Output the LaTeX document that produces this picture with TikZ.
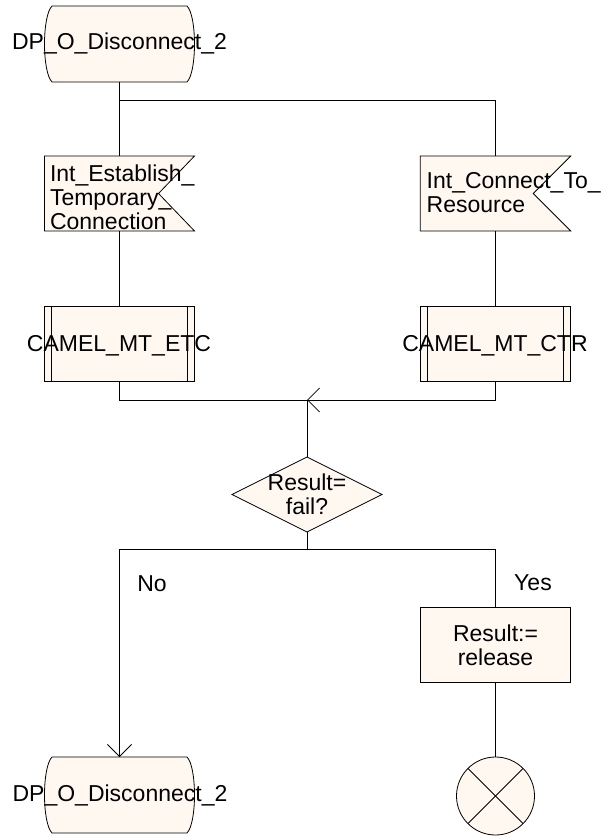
\documentclass[tikz,border=0pt]{standalone}
\usepackage{fontspec}
\setmainfont{Liberation Sans}
\usetikzlibrary{arrows.meta}
\definecolor{fillc}{RGB}{255,248,240}
\begin{document}
\begin{tikzpicture}[x=1pt,y=-1pt,line width=0.8pt,
  every node/.style={inner sep=0pt,outer sep=0pt},
  txt/.style={font=\fontsize{23}{24}\selectfont},
  hold/.style={minimum width=150pt,minimum height=75pt},
  shapefill/.style={draw=black,fill=fillc},
  box/.style={shapefill,minimum width=150.5pt,minimum height=75.5pt,txt,align=center},
  flow/.style={draw=black},
  arr/.style={-{Straight Barb[length=12pt,width=24pt,line width=0.8pt]}}
]
\useasboundingbox (0,0) rectangle (603,837);

% ---------- shape holders ----------
\node[hold,minimum width=135pt,minimum height=76pt] (t1) at (119.5,44) {};
\node[hold] (s1) at (119.5,193.5) {};
\node[hold,minimum width=150.5pt] (s2) at (495.5,193.5) {};
\node[hold,minimum height=75.5pt] (p1) at (119.5,343.75) {};
\node[hold,minimum width=150.5pt,minimum height=75.5pt] (p2) at (495.5,343.75) {};
\node[hold] (d) at (307,494.5) {};
\node[hold,minimum width=135pt,minimum height=76pt] (t2) at (119.5,795) {};

% ---------- shapes ----------
\draw[shapefill] (t1.north west) .. controls +(-10,10) and +(-10,-10) .. (t1.south west)
  -- (t1.south east) .. controls +(10,-10) and +(10,10) .. (t1.north east) -- cycle;
\draw[shapefill] (t2.north west) .. controls +(-10,10) and +(-10,-10) .. (t2.south west)
  -- (t2.south east) .. controls +(10,-10) and +(10,10) .. (t2.north east) -- cycle;
\draw[shapefill] (s1.north west) -- (s1.north east) -- ([xshift=-36pt]s1.east)
  -- (s1.south east) -- (s1.south west) -- cycle;
\draw[shapefill] (s2.north west) -- (s2.north east) -- ([xshift=-37.5pt]s2.east)
  -- (s2.south east) -- (s2.south west) -- cycle;
\draw[shapefill] (p1.north west) rectangle (p1.south east);
\draw ([xshift=7pt]p1.north west) -- ([xshift=7pt]p1.south west);
\draw ([xshift=-7pt]p1.north east) -- ([xshift=-7pt]p1.south east);
\draw[shapefill] (p2.north west) rectangle (p2.south east);
\draw ([xshift=7pt]p2.north west) -- ([xshift=7pt]p2.south west);
\draw ([xshift=-7pt]p2.north east) -- ([xshift=-7pt]p2.south east);
\draw[shapefill] (d.north) -- (d.east) -- (d.south) -- (d.west) -- cycle;
\node[box] (r) at (495.5,645) {Result:=\\release};
\node[circle,shapefill,minimum size=78pt] (c) at (495.5,796) {};
\draw (c.north west) -- (c.south east);
\draw (c.north east) -- (c.south west);

% ---------- texts ----------
\node[txt,anchor=base] (t1t) at (119.5,50) {DP\_O\_Disconnect\_2};
\node[txt,anchor=base] (t2t) at (120,801.5) {DP\_O\_Disconnect\_2};
\node[txt,anchor=west,align=left] (s1t) at (50,197.6) {Int\_Establish\_\\Temporary\_\\Connection};
\node[txt,anchor=west,align=left] (s2t) at (426.7,192.6) {Int\_Connect\_To\_\\Resource};
\node[txt,anchor=base] (p1t) at (119,351.5) {CAMEL\_MT\_ETC};
\node[txt,anchor=base] (p2t) at (495,351.5) {CAMEL\_MT\_CTR};
\node[txt,align=center] (dt) at (307,494) {Result=\\fail?};
\node[txt,anchor=base] (no) at (152,591.5) {No};
\node[txt,anchor=base] (yes) at (533,590.5) {Yes};

% ---------- connectors ----------
\coordinate (br) at (119.5,100);
\coordinate (j) at (307,400);
\coordinate (dj) at (307,549);
\draw[flow] (t1.south) -- (s1.north);
\draw[flow] (br) -| (s2.north);
\draw[flow] (s1.south) -- (p1.north);
\draw[flow] (s2.south) -- (p2.north);
\draw[flow] (p1.south) |- (j);
\draw[flow,arr] (p2.south) |- (j);
\draw[flow] (j) -- (d.north);
\draw[flow] (d.south) -- (dj);
\draw[flow,arr] (dj) -| (t2.north);
\draw[flow] (dj) -| (r.north);
\draw[flow] (r.south) -- (c.north);
\end{tikzpicture}
\end{document}
